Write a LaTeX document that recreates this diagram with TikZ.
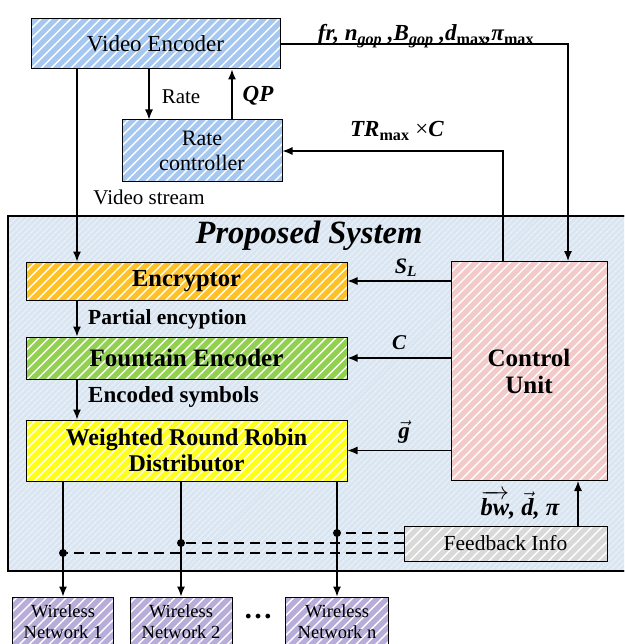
\documentclass[tikz,border=0pt]{standalone}
\usepackage{fontspec}
\setmainfont{Liberation Serif}
\usetikzlibrary{patterns.meta,arrows.meta}

\definecolor{veblue}{HTML}{A6C8F0}
\definecolor{encorange}{HTML}{FFC125}
\definecolor{fgreen}{HTML}{92D050}
\definecolor{wyellow}{HTML}{FFFF1A}
\definecolor{cupink}{HTML}{F2CACA}
\definecolor{wnpurple}{HTML}{B8ADD9}
\definecolor{fbgray}{HTML}{D9D9D9}
\definecolor{psblue}{HTML}{DAE5F2}

\newcommand\fsz[1]{\fontsize{#1}{#1}\selectfont}

\tikzset{
  hatch/.style={postaction={pattern={Lines[angle=45,distance=#1,line width=1.4pt]},
      pattern color=white, fill opacity=0.45},
    postaction={draw=black}},
  hatch/.default=7pt,
  block/.style={draw=black, line width=1pt, inner sep=0pt, align=center, hatch},
  chain/.style={block, minimum width=321pt},
  lbl/.style={inner sep=0pt, align=center},
  dot/.style={circle, fill=black, inner sep=0pt, minimum size=8pt},
  link/.style={line width=1.2pt, -{Latex[length=10pt,width=8pt]}},
  fbline/.style={line width=1.2pt, dash pattern=on 10pt off 6pt},
  netbox/.style={block, fill=wnpurple, minimum height=50pt, font=\fontsize{18.5}{21}\selectfont},
}

\begin{document}
\begin{tikzpicture}[x=1pt,y=-1pt]
\useasboundingbox (0,0) rectangle (624,644);
\clip (0,0) rectangle (624,644);

% enclosing system frame
\draw[line width=1.4pt, fill=psblue, hatch=4pt] (8,216) rectangle (640,571);
\node[lbl, font=\bfseries\itshape\fsz{32.5}] (pst) at (309,236) {Proposed System};

% blocks
\node[block, fill=veblue, minimum width=249pt, minimum height=50pt, font=\fsz{23}] (ve) at (155.5,44) {Video Encoder};
\node[block, fill=veblue, minimum width=160pt, minimum height=62pt, font=\fontsize{22}{25}\selectfont] (rc) at (202,151) {Rate\\controller};
\node[chain, fill=encorange, minimum height=38pt, font=\bfseries\fsz{24.5}] (enc) at (186.5,281) {Encryptor};
\node[chain, fill=fgreen, minimum height=42pt, font=\bfseries\fsz{25}] (fe) at (186.5,358) {Fountain Encoder};
\node[chain, fill=wyellow, minimum height=61pt, font=\bfseries\fontsize{24}{26}\selectfont] (wrr) at (186.5,450.5) {Weighted Round Robin\\Distributor};
\node[block, fill=cupink, minimum width=156pt, minimum height=219pt, font=\bfseries\fontsize{25}{27}\selectfont] (cu) at (529,371) {Control\\Unit};
\node[block, fill=fbgray, minimum width=203pt, minimum height=35pt, font=\fsz{21.5}] (fb) at (505.5,543.5) {Feedback Info};
\node[netbox, minimum width=101pt] (wn1) at (63,622) {Wireless\\Network 1};
\node[netbox, minimum width=102pt] (wn2) at (181,622) {Wireless\\Network 2};
\node[netbox, minimum width=103pt] (wn3) at (337,622) {Wireless\\Network n};
\node[lbl, font=\bfseries\fsz{29}] (dots) at (258,617) {\ldots};

% labels
\node[lbl, font=\fsz{21}] (lrate) at (181,97) {Rate};
\node[lbl, font=\bfseries\itshape\fsz{23}] (lqp) at (258,96) {QP};
\node[lbl, font=\fsz{21}] (lvs) at (149,197) {Video stream};
\node[lbl, font=\bfseries\fsz{21.5}, anchor=west] (lpe) at (88,319) {Partial encyption};
\node[lbl, font=\bfseries\fsz{23}, anchor=west] (les) at (88,397) {Encoded symbols};
\node[lbl, font=\bfseries\itshape\fsz{23}] (lfr) at (426,36)
  {fr, n\textsubscript{gop} ,B\textsubscript{gop} ,d\textsubscript{\upshape max}\kern-1pt,π\textsubscript{\upshape max}};
\node[lbl, font=\bfseries\fsz{23}] (ltr) at (397,131)
  {\textit{TR}\textsubscript{max} \textmd{×}\textit{C}};
\node[lbl, font=\bfseries\itshape\fsz{22}] (lsl) at (406,268) {S\textsubscript{L}};
\node[lbl, font=\bfseries\itshape\fsz{21}] (lc) at (399,343) {C};
\node[lbl, font=\bfseries\itshape\fsz{23}] (lg) at (404,432) {$\vec{\mbox{g}}$};
\node[lbl, font=\bfseries\itshape\fsz{24.5}] (lbw) at (520,505)
  {$\overrightarrow{\mbox{bw}}$, $\vec{\mbox{d}}$, π};

% column and row helpers
\coordinate (xv) at (77,0);
\coordinate (xr) at (149,0);
\coordinate (xq) at (232,0);
\coordinate (xf) at (568,0);
\coordinate (xt) at (503,0);
\coordinate (xb) at (578,0);
\coordinate (y1) at (0,533);
\coordinate (y2) at (0,543);
\coordinate (y3) at (0,553);

% connectors
\draw[link] (ve.south -| xv) -- (enc.north -| xv);
\draw[link] (ve.south -| xr) -- (rc.north -| xr);
\draw[link] (rc.north -| xq) -- (ve.south -| xq);
\draw[link] (ve.east) -| (cu.north -| xf);
\draw[link] (cu.north -| xt) |- (rc.east);
\draw[link] (cu.west |- enc.east) -- (enc.east);
\draw[link] (cu.west |- fe.east) -- (fe.east);
\draw[link] (cu.west |- wrr.east) -- (wrr.east);
\draw[link] (enc.south -| xv) -- (fe.north -| xv);
\draw[link] (fe.south -| xv) -- (wrr.north -| xv);
\draw[link] (wrr.south -| wn1.north) -- (wn1.north);
\draw[link] (wrr.south -| wn2.north) -- (wn2.north);
\draw[link] (wrr.south -| wn3.north) -- (wn3.north);
\draw[link] (fb.north -| xb) -- (cu.south -| xb);

% feedback taps
\node[dot] (d3) at (wn3.north |- y1) {};
\node[dot] (d2) at (wn2.north |- y2) {};
\node[dot] (d1) at (wn1.north |- y3) {};
\draw[fbline] (fb.west |- y1) -- (d3);
\draw[fbline] (fb.west |- y2) -- (d2);
\draw[fbline] (fb.west |- y3) -- (d1);
\end{tikzpicture}
\end{document}
